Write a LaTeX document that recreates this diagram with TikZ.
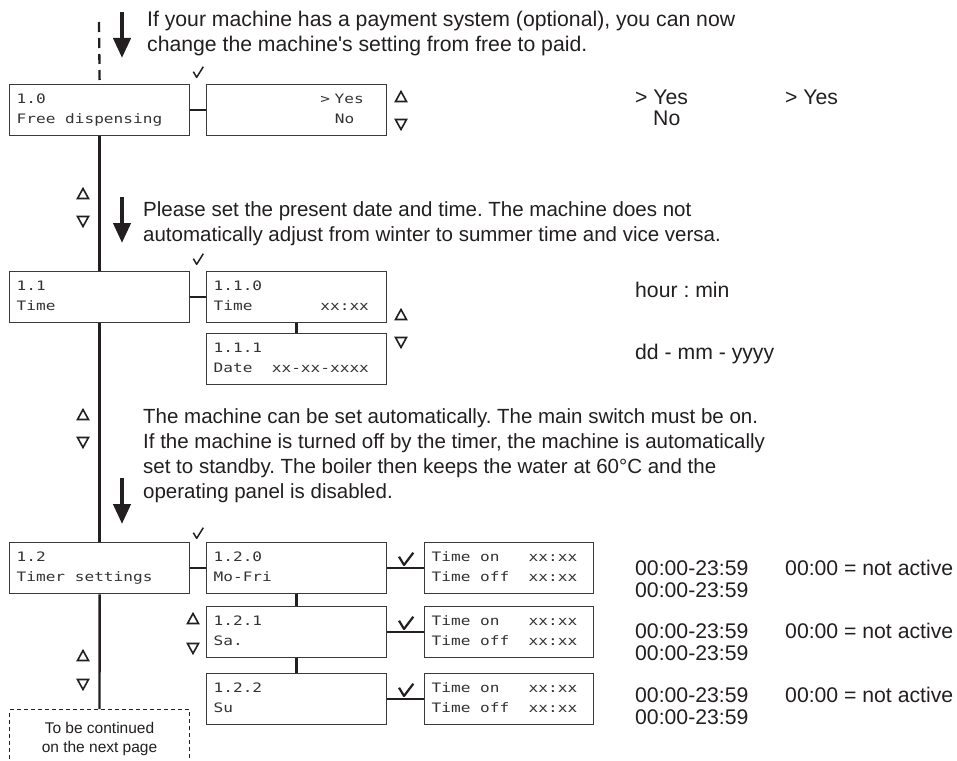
\documentclass[tikz,border=0pt]{standalone}
\usepackage{fontspec}
\setmainfont{Liberation Sans}
\newfontfamily\rawsans{Liberation Sans}[Ligatures=TeXOff]
\newfontfamily\lcdfont[FakeStretch=1.24]{DejaVu Sans Mono}
\usetikzlibrary{arrows.meta}
\frenchspacing
\definecolor{ink}{HTML}{231F20}
\definecolor{boxgray}{HTML}{3A3A3A}
\definecolor{lcdink}{HTML}{333333}
\newcommand\lcdlines[2]{\rule{0pt}{10pt}#1\\#2\rule[-3pt]{0pt}{3pt}}
\newcommand\gap[1]{\phantom{#1}}
\tikzset{
  lcd/.style={draw=boxgray, line width=1.3pt, text width=166pt, inner xsep=7pt, inner ysep=0pt,
    minimum height=51pt, align=left, anchor=north west, text=lcdink,
    font=\lcdfont\fontsize{13}{20}\selectfont},
  tbox/.style={lcd, text width=155pt},
  link/.style={draw=ink, line width=2.4pt},
  startline/.style={draw=ink, line width=2.3pt, dash pattern=on 10pt off 6pt},
  bigarrow/.style={draw=ink, fill=ink, line width=4.2pt, -{Triangle[width=17pt,length=20pt]}},
  note/.style={anchor=base west, inner sep=0pt, text=ink, font=\fontsize{21.2}{25}\selectfont},
  para/.style={note, font=\fontsize{20.5}{25}\selectfont},
  contbox/.style={draw=ink, line width=1pt, dash pattern=on 4pt off 3pt, anchor=north west,
    minimum width=180pt, inner xsep=0pt, inner ysep=0pt, align=center, text=ink,
    font=\fontsize{15.5}{19}\selectfont},
  upmark/.pic={\draw[ink, line width=1.6pt, line join=miter] (-5.5,4.5) -- (5.5,4.5) -- (0,-5.5) -- cycle;},
  downmark/.pic={\draw[ink, line width=1.6pt, line join=miter] (-5.5,-4.5) -- (5.5,-4.5) -- (0,5.5) -- cycle;},
  smalltick/.pic={\draw[ink, line width=1.5pt, line join=round] (-4.7,-0.3) -- (-1.3,5.3) -- (5.3,-5.3);},
  bigtick/.pic={\draw[ink, line width=2.2pt, line join=round] (-7,-2.3) -- (-2,6) -- (7.3,-6.3);},
}
\begin{document}
\begin{tikzpicture}[x=1pt,y=-1pt]
\fill[white] (0,0) rectangle (957,760);
\useasboundingbox (0,0) rectangle (957,760);
\clip (0,0) rectangle (957,760);

% ---------- boxes ----------
\node[lcd] (b10) at (9,84) {\lcdlines{1.0}{Free\gap{x}dispensing}};
\node[lcd] (b10s) at (206,84) {\lcdlines{\gap{xxxxxxxxxxx}>\hspace*{4.5pt}Yes}{\gap{xxxxxxxxxxxx}\hspace*{4.8pt}No}};
\node[lcd] (b11) at (9,271) {\lcdlines{1.1}{Time}};
\node[lcd] (b110) at (206,271) {\lcdlines{1.1.0}{Time\gap{xxxxxxx}xx:xx}};
\node[lcd] (b111) at (206,333) {\lcdlines{1.1.1}{Date\gap{xx}xx-xx-xxxx}};
\node[lcd] (b12) at (9,542) {\lcdlines{1.2}{Timer\gap{x}settings}};
\node[lcd] (b120) at (206,542) {\lcdlines{1.2.0}{Mo-Fri}};
\node[lcd] (b121) at (206,606) {\lcdlines{1.2.1}{Sa.}};
\node[lcd] (b122) at (206,673) {\lcdlines{1.2.2}{Su}};
\node[tbox] (t0) at (424,542) {\lcdlines{Time\gap{x}on\gap{xxx}xx:xx}{Time\gap{x}off\gap{xx}xx:xx}};
\node[tbox] (t1) at (424,606) {\lcdlines{Time\gap{x}on\gap{xxx}xx:xx}{Time\gap{x}off\gap{xx}xx:xx}};
\node[tbox] (t2) at (424,673) {\lcdlines{Time\gap{x}on\gap{xxx}xx:xx}{Time\gap{x}off\gap{xx}xx:xx}};
\node[contbox] (cont) at (9,709) {\rule{0pt}{24pt}To be continued\\on the next page\rule[-14pt]{0pt}{14pt}};

% ---------- connectors ----------
\coordinate (top) at (99,22);
\draw[startline] (top) -- (b10.north);
\draw[link] (b10.east) -- (b10s.west);
\draw[link] (b10.south) -- (b11.north);
\draw[link] (b11.east) -- (b110.west);
\draw[link] (b110.south) -- (b111.north);
\draw[link] (b11.south) -- (b12.north);
\draw[link] (b12.east) -- (b120.west);
\draw[link] (b120.south) -- (b121.north);
\draw[link] (b121.south) -- (b122.north);
\draw[link] (b120.east) -- (t0.west);
\draw[link] (b121.east) -- (t1.west);
\draw[link] (b122.east) -- (t2.west);
\draw[link] (b12.south) -- (cont.north);

% ---------- big arrows ----------
\coordinate (a1s) at (122,12);  \coordinate (a1e) at (122,58);
\coordinate (a2s) at (122,197); \coordinate (a2e) at (122,243);
\coordinate (a3s) at (122,478); \coordinate (a3e) at (122,524);
\draw[bigarrow] (a1s) -- (a1e);
\draw[bigarrow] (a2s) -- (a2e);
\draw[bigarrow] (a3s) -- (a3e);

% ---------- up/down marks ----------
\pic at (401,97) {upmark};  \pic at (401,124) {downmark};
\pic at (83,194) {upmark};  \pic at (83,221) {downmark};
\pic at (401,315) {upmark}; \pic at (401,342) {downmark};
\pic at (83,415) {upmark};  \pic at (83,442) {downmark};
\pic at (193,619) {upmark}; \pic at (193,648) {downmark};
\pic at (83,656) {upmark};  \pic at (83,684) {downmark};

% ---------- ticks ----------
\pic at (198,72) {smalltick};
\pic at (198,259) {smalltick};
\pic at (198,533) {smalltick};
\pic at (406,559) {bigtick};
\pic at (406,623) {bigtick};
\pic at (406,690) {bigtick};

% ---------- explanatory texts ----------
\node[note] (n1a) at (147,27) {If your machine has a payment system (optional), you can now};
\node[note] (n1b) at (147,52) {change the machine{\rawsans '}s setting from free to paid.};
\node[para] (n2a) at (143,216) {Please set the present date and time. The machine does not};
\node[para] (n2b) at (143,241) {automatically adjust from winter to summer time and vice versa.};
\node[para] (n3a) at (143,423) {The machine can be set automatically. The main switch must be on.};
\node[para] (n3b) at (143,448) {If the machine is turned off by the timer, the machine is automatically};
\node[para] (n3c) at (143,473) {set to standby. The boiler then keeps the water at 60°C and the};
\node[para] (n3d) at (143,498) {operating panel is disabled.};

% ---------- right column ----------
\node[note] (y1) at (635,104) {> Yes};
\node[note] (y2) at (653,125) {No};
\node[note] (y3) at (785,104) {> Yes};
\node[note] (h1) at (635,297) {hour : min};
\node[note] (d1) at (635,359) {dd - mm - yyyy};
\node[note] (r0a) at (635,575) {00:00-23:59};
\node[note] (r0b) at (635,597) {00:00-23:59};
\node[note] (r0c) at (785,575) {00:00 = not active};
\node[note] (r1a) at (635,638) {00:00-23:59};
\node[note] (r1b) at (635,660) {00:00-23:59};
\node[note] (r1c) at (785,638) {00:00 = not active};
\node[note] (r2a) at (635,702) {00:00-23:59};
\node[note] (r2b) at (635,724) {00:00-23:59};
\node[note] (r2c) at (785,702) {00:00 = not active};
\end{tikzpicture}
\end{document}
